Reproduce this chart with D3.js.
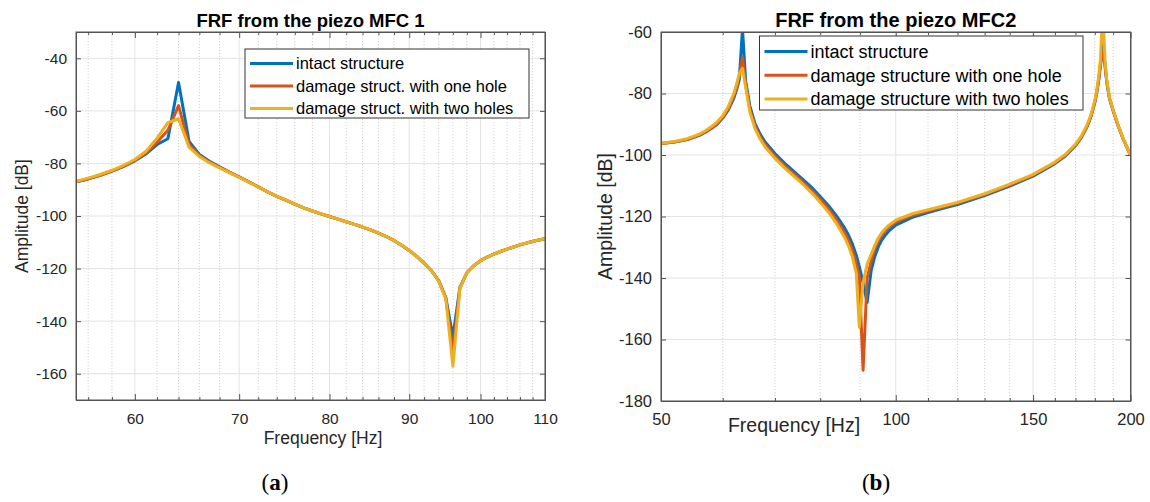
<!DOCTYPE html>
<html lang="en">
<head>
  <meta charset="UTF-8">
  <title>FRF from the piezo MFC</title>
  <script src="https://cdn.jsdelivr.net/npm/d3@7"></script>
  <style>
    body { margin: 0; background: #fff; }
    svg { font-family: "Liberation Sans", Arial, sans-serif; }
    .title { font-weight: bold; fill: #000; }
    .caption { font-family: "Liberation Serif", "DejaVu Serif", serif; fill: #000; }
  </style>
</head>
<body>
  <svg width="1150" height="502"></svg>
  <script>
    // ---- panel (a): FRF from MFC 1 ----
    const freqA = [55, 56, 57, 58, 59, 60, 61, 62, 63, 64, 65, 66, 67, 68, 69, 70, 71, 72, 73, 74,
      75, 76, 77, 78, 79, 80, 81, 82, 83, 84, 85, 86, 87, 88, 89, 90, 91, 92, 93, 94,
      95, 96, 97, 98, 99, 100, 101, 102, 103, 104, 105, 106, 107, 108, 109, 110];
    const intactA = [-87.0, -85.9, -84.5, -82.9, -81.1, -79.0, -76.4, -72.8, -70.6, -49.2,
      -71.6, -76.6, -79.2, -81.3, -83.3, -85.1, -87.0, -88.9, -90.8, -92.5,
      -94.0, -95.5, -96.9, -98.1, -99.2, -100.2, -101.2, -102.2, -103.2, -104.2,
      -105.3, -106.5, -107.8, -109.3, -111.1, -113.1, -115.4, -117.9, -120.8, -124.6,
      -131.0, -146.0, -127.2, -121.6, -118.9, -117.0, -115.6, -114.5, -113.5, -112.6,
      -111.8, -111.0, -110.3, -109.7, -109.1, -108.6];
    const oneHoleA = [-87.0, -85.9, -84.5, -82.9, -81.1, -78.9, -76.0, -71.9, -67.4, -58.0,
      -72.8, -77.0, -79.5, -81.5, -83.4, -85.2, -87.0, -88.9, -90.8, -92.5,
      -94.0, -95.5, -96.9, -98.1, -99.2, -100.2, -101.2, -102.2, -103.2, -104.2,
      -105.3, -106.5, -107.8, -109.3, -111.1, -113.1, -115.4, -117.9, -120.8, -124.6,
      -131.2, -151.0, -127.3, -121.6, -118.9, -117.0, -115.6, -114.5, -113.5, -112.6,
      -111.8, -111.0, -110.3, -109.7, -109.1, -108.6];
    const twoHolesA = [-86.8, -85.6, -84.2, -82.6, -80.7, -78.5, -75.4, -70.4, -64.5, -63.0,
      -73.8, -77.4, -79.8, -81.7, -83.5, -85.3, -87.1, -89.0, -90.8, -92.5,
      -94.0, -95.5, -96.9, -98.1, -99.2, -100.2, -101.2, -102.2, -103.2, -104.2,
      -105.3, -106.5, -107.8, -109.3, -111.1, -113.1, -115.4, -117.9, -120.8, -124.8,
      -131.5, -157.2, -127.5, -121.6, -118.9, -117.0, -115.6, -114.5, -113.5, -112.6,
      -111.8, -111.0, -110.3, -109.7, -109.1, -108.6];

    // ---- panel (b): FRF from MFC2 ----
    const freqB = [50, 52, 54, 56, 57, 58, 59, 60, 61, 62, 62.5, 63, 63.6, 64.2, 65, 66, 67, 68,
      70, 72, 74, 76, 78, 80, 82, 84, 86, 87, 88, 89, 89.8, 90.8, 91.9, 93, 94, 95, 96, 97, 98,
      100, 105, 110, 115, 120, 130, 140, 150, 160, 165, 170, 173, 176, 178, 180, 181, 182, 183,
      184.3, 185.5, 186.5, 188, 190, 193, 196, 200];
    const intactB = [-96.3, -95.8, -95.0, -93.6, -92.6, -91.4, -90.0, -88.0, -85.3, -81.5, -78.8, -75.5, -59.0, -76.0, -84.0, -89.8, -93.2, -95.8,
      -99.5, -102.6, -105.3, -107.9, -110.5, -113.5, -116.5, -119.9, -123.8, -126.1, -129.0, -132.6, -136.3, -141.5, -148.0, -137.5, -133.0, -129.8, -127.6, -126.0, -124.7,
      -122.8, -120.3, -118.7, -117.3, -116.1, -113.2, -110.1, -106.9, -102.8, -100.3, -97.0, -94.3, -90.7, -87.4, -82.9, -79.8, -76.0, -71.0,
      -64.0, -71.0, -76.5, -81.8, -85.6, -90.8, -95.2, -100.1];
    const oneHoleB = [-96.3, -95.8, -95.0, -93.5, -92.5, -91.3, -89.9, -87.8, -85.0, -80.8, -78.0, -74.5, -68.3, -77.0, -85.0, -90.6, -94.0, -96.6,
      -100.3, -103.4, -106.1, -108.7, -111.4, -114.4, -117.5, -121.1, -125.3, -127.8, -131.0, -135.0, -139.5, -170.0, -140.0, -134.5, -130.6, -127.9, -126.0, -124.6, -123.4,
      -121.8, -119.6, -118.2, -116.9, -115.7, -112.9, -109.8, -106.6, -102.6, -100.1, -96.9, -94.2, -90.6, -87.3, -82.8, -79.7, -75.8, -70.5,
      -66.0, -70.5, -76.2, -81.6, -85.5, -90.7, -95.1, -100.1];
    const twoHolesB = [-96.2, -95.6, -94.7, -93.2, -92.1, -90.8, -89.3, -87.2, -84.2, -80.0, -77.0, -73.5, -71.8, -78.0, -86.0, -91.4, -94.8, -97.4,
      -101.1, -104.2, -106.9, -109.5, -112.3, -115.4, -118.6, -122.4, -126.8, -129.6, -133.2, -138.5, -156.0, -141.5, -135.5, -132.3, -129.4, -127.0, -125.2, -123.9, -122.8,
      -121.2, -119.1, -117.8, -116.6, -115.4, -112.6, -109.5, -106.3, -102.3, -99.8, -96.5, -93.8, -90.1, -86.8, -82.2, -79.0, -74.8, -69.0,
      -52.0, -69.5, -75.8, -81.4, -85.4, -90.6, -95.0, -100.1];

    const seriesNames = ['intact structure', 'damage struct. with one hole', 'damage struct. with two holes'];
    const seriesNamesB = ['intact structure', 'damage structure with one hole', 'damage structure with two holes'];
    const colors = ['#0072BD', '#D95319', '#EDB120'];

    const svg = d3.select('svg');

    function drawPanel(p) {
      const x = d3.scaleLog().domain(p.xDomain).range([p.left, p.right]);
      const y = d3.scaleLinear().domain(p.yDomain).range([p.bottom, p.top]);
      const g = svg.append('g');

      // grid
      g.selectAll('.minor').data(p.xMinor).enter().append('line')
        .attr('x1', d => x(d)).attr('x2', d => x(d))
        .attr('y1', p.top).attr('y2', p.bottom)
        .attr('stroke', '#c8c8c8').attr('stroke-width', 0.8).attr('stroke-dasharray', '1.2,1.8');
      g.selectAll('.major').data(p.xMajor).enter().append('line')
        .attr('x1', d => x(d)).attr('x2', d => x(d))
        .attr('y1', p.top).attr('y2', p.bottom)
        .attr('stroke', '#e3e3e3').attr('stroke-width', 1);
      g.selectAll('.hgrid').data(p.yTicks).enter().append('line')
        .attr('x1', p.left).attr('x2', p.right)
        .attr('y1', d => y(d)).attr('y2', d => y(d))
        .attr('stroke', '#e3e3e3').attr('stroke-width', 1);

      // lines
      const clipId = 'clip' + p.id;
      svg.append('clipPath').attr('id', clipId).append('rect')
        .attr('x', p.left).attr('y', p.top)
        .attr('width', p.right - p.left).attr('height', p.bottom - p.top);
      const line = d3.line().x(d => x(d[0])).y(d => y(d[1]));
      p.series.forEach((vals, i) => {
        g.append('path')
          .datum(p.freq.map((f, k) => [f, vals[k]]))
          .attr('clip-path', `url(#${clipId})`)
          .attr('d', line)
          .attr('fill', 'none')
          .attr('stroke', colors[i])
          .attr('stroke-width', 3)
          .attr('stroke-linejoin', 'round');
      });

      // axes (box with inward ticks)
      const bottom = g.append('g').attr('transform', `translate(0,${p.bottom})`)
        .call(d3.axisBottom(x).tickValues(p.xMajor).tickFormat(d3.format('d'))
          .tickSizeInner(-6).tickSizeOuter(0).tickPadding(p.xTickPad));
      const top = g.append('g').attr('transform', `translate(0,${p.top})`)
        .call(d3.axisTop(x).tickValues(p.xMajor).tickFormat('').tickSizeInner(-6).tickSizeOuter(0));
      const minorB = g.append('g').attr('transform', `translate(0,${p.bottom})`)
        .call(d3.axisBottom(x).tickValues(p.xMinor).tickFormat('').tickSizeInner(-3).tickSizeOuter(0));
      const minorT = g.append('g').attr('transform', `translate(0,${p.top})`)
        .call(d3.axisTop(x).tickValues(p.xMinor).tickFormat('').tickSizeInner(-3).tickSizeOuter(0));
      const leftAx = g.append('g').attr('transform', `translate(${p.left},0)`)
        .call(d3.axisLeft(y).tickValues(p.yTicks).tickFormat(d3.format('d'))
          .tickSizeInner(-5).tickSizeOuter(0).tickPadding(9));
      const rightAx = g.append('g').attr('transform', `translate(${p.right},0)`)
        .call(d3.axisRight(y).tickValues(p.yTicks).tickFormat('').tickSizeInner(-5).tickSizeOuter(0));
      [bottom, top, minorB, minorT, leftAx, rightAx].forEach(a => {
        a.selectAll('path').attr('stroke', '#555');
        a.selectAll('line').attr('stroke', '#555');
      });
      bottom.selectAll('text').style('font-size', p.tickFont + 'px')
        .attr('font-family', 'Liberation Sans, Arial, sans-serif').attr('fill', '#262626');
      leftAx.selectAll('text').style('font-size', p.tickFont + 'px')
        .attr('font-family', 'Liberation Sans, Arial, sans-serif').attr('fill', '#262626')
        .text(d => d < 0 ? '-' + Math.abs(d) : d);
      g.append('rect')
        .attr('x', p.left).attr('y', p.top)
        .attr('width', p.right - p.left).attr('height', p.bottom - p.top)
        .attr('fill', 'none').attr('stroke', '#555').attr('stroke-width', 1);

      // titles and labels
      svg.append('text').attr('class', 'title')
        .attr('x', (p.left + p.right) / 2).attr('y', 27)
        .attr('text-anchor', 'middle').style('font-size', p.titleFont + 'px')
        .text(p.title);
      svg.append('text')
        .attr('x', p.xLabelX).attr('y', p.xLabelY)
        .attr('text-anchor', 'middle').style('font-size', p.labelFont + 'px').attr('fill', '#262626')
        .text('Frequency [Hz]');
      svg.append('text')
        .attr('transform', `translate(${p.yLabelX},${(p.top + p.bottom) / 2}) rotate(-90)`)
        .attr('text-anchor', 'middle').style('font-size', p.labelFont + 'px').attr('fill', '#262626')
        .text('Amplitude [dB]');

      // legend
      const L = p.legend;
      const lg = svg.append('g');
      lg.append('rect').attr('x', L.x).attr('y', L.y).attr('width', L.w).attr('height', L.h)
        .attr('fill', '#fff').attr('stroke', '#333').attr('stroke-width', 1);
      p.names.forEach((name, i) => {
        const cy = L.y + L.first + i * L.step;
        lg.append('line').attr('x1', L.x + 5).attr('x2', L.x + 48)
          .attr('y1', cy).attr('y2', cy)
          .attr('stroke', colors[i]).attr('stroke-width', 3);
        lg.append('text').attr('x', L.x + 51).attr('y', cy).attr('dy', '0.35em')
          .style('font-size', L.font + 'px').attr('fill', '#000').text(name);
      });

      // caption
      svg.append('text').attr('class', 'caption')
        .attr('x', p.captionX).attr('y', 490).attr('text-anchor', 'middle')
        .style('font-size', '23px')
        .html(`(<tspan font-weight="bold">${p.caption}</tspan>)`);
    }

    drawPanel({
      id: 'a', left: 76, right: 545, top: 32, bottom: 400,
      xDomain: [55, 110], yDomain: [-170, -30],
      xMajor: [60, 70, 80, 90, 100, 110],
      xMinor: [56, 58, 62, 64, 66, 68, 72, 74, 76, 78, 82, 84, 86, 88, 92, 94, 96, 98, 102, 104, 106, 108],
      yTicks: [-160, -140, -120, -100, -80, -60, -40],
      freq: freqA, series: [intactA, oneHoleA, twoHolesA], names: seriesNames,
      title: 'FRF from the piezo MFC 1', titleFont: 18.5, tickFont: 15.5, labelFont: 17.5, xTickPad: 13,
      xLabelX: 323, xLabelY: 444, yLabelX: 28,
      legend: { x: 245, y: 49, w: 284, h: 69, first: 14.5, step: 22.5, font: 16.5 },
      captionX: 275, caption: 'a'
    });

    drawPanel({
      id: 'b', left: 661, right: 1130.5, top: 32, bottom: 401,
      xDomain: [50, 200], yDomain: [-180, -60],
      xMajor: [50, 100, 150, 200],
      xMinor: [60, 70, 80, 90, 110, 120, 130, 140, 160, 170, 180, 190],
      yTicks: [-180, -160, -140, -120, -100, -80, -60],
      freq: freqB, series: [intactB, oneHoleB, twoHolesB], names: seriesNamesB,
      title: 'FRF from the piezo MFC2', titleFont: 20, tickFont: 16.5, labelFont: 19.5, xTickPad: 12,
      xLabelX: 794, xLabelY: 432, yLabelX: 612,
      legend: { x: 759.5, y: 36, w: 323.5, h: 74, first: 15.5, step: 23.7, font: 18 },
      captionX: 876, caption: 'b'
    });
  </script>
</body>
</html>
